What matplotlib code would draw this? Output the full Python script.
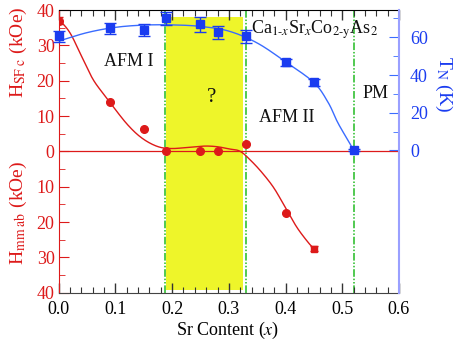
import numpy as np
import matplotlib
matplotlib.use("Agg")
import matplotlib.pyplot as plt

plt.rcParams['font.family'] = ['Liberation Serif', 'DejaVu Serif']
plt.rcParams['mathtext.fontset'] = 'stix'

# --- data ---
# red: H_SF c (positive) / H_mm ab (negative), kOe
h_x = [0.0, 0.09, 0.15, 0.19, 0.25, 0.28, 0.33, 0.40, 0.45]
h_y = [37.0, 14.0, 6.2, 0.2, 0.2, 0.1, 2.2, -17.4, -27.5]
h_err = [1.0, 0, 0, 0, 0, 0, 0, 0, 0.8]
# red guide curve
hc_x = [0.0, 0.02, 0.04, 0.06, 0.08, 0.10, 0.12, 0.14, 0.16, 0.18, 0.20, 0.22,
        0.24, 0.26, 0.28, 0.30, 0.32, 0.34, 0.36, 0.38, 0.40, 0.42, 0.44, 0.45]
hc_y = [37.5, 33.5, 27.0, 20.5, 16.0, 11.8, 7.8, 4.6, 2.4, 1.1, 0.8, 1.0,
        1.3, 1.5, 1.3, 0.7, 0.0, -2.8, -6.3, -10.5, -16.0, -21.5, -25.8, -27.5]

# blue: T_N (K)
t_x = [0.0, 0.09, 0.15, 0.19, 0.25, 0.28, 0.33, 0.40, 0.45, 0.52]
t_y = [60.5, 64.8, 63.9, 70.0, 67.0, 62.7, 60.5, 46.7, 36.1, 0.0]
t_err = [3.0, 3.0, 3.0, 3.5, 4.0, 3.5, 3.5, 2.0, 2.0, 0.5]
tc_x = [0.0, 0.05, 0.10, 0.15, 0.20, 0.25, 0.30, 0.35, 0.40, 0.45, 0.475, 0.49, 0.50, 0.51, 0.52]
tc_y = [58.0, 62.5, 65.3, 66.5, 66.6, 65.8, 63.3, 57.0, 47.0, 36.0, 25.5, 16.0, 10.5, 5.5, 0.0]

boundaries = [0.1875, 0.331, 0.52]
unknown_region = (0.19, 0.325)

left_ticks = [-40, -30, -20, -10, 0, 10, 20, 30, 40]
right_ticks = [0, 20, 40, 60]
x_ticks = [0.0, 0.1, 0.2, 0.3, 0.4, 0.5, 0.6]


def smooth(xs, ys, n=20):
    xs = np.asarray(xs, float); ys = np.asarray(ys, float)
    px = np.concatenate([[2*xs[0]-xs[1]], xs, [2*xs[-1]-xs[-2]]])
    py = np.concatenate([[2*ys[0]-ys[1]], ys, [2*ys[-1]-ys[-2]]])
    ox, oy = [], []
    t = np.linspace(0, 1, n, endpoint=False)
    for i in range(1, len(px)-2):
        for arr, out in ((px, ox), (py, oy)):
            p0, p1, p2, p3 = arr[i-1], arr[i], arr[i+1], arr[i+2]
            out.extend(0.5*((2*p1) + (-p0+p2)*t + (2*p0-5*p1+4*p2-p3)*t**2 + (-p0+3*p1-3*p2+p3)*t**3))
    ox.append(xs[-1]); oy.append(ys[-1])
    return np.array(ox), np.array(oy)


RED = '#dd1a1a'
BLUE = '#1a3cf0'
BLUE_L = '#3a6cff'
GREEN = '#22bb22'

fig = plt.figure(figsize=(4.57, 3.45), dpi=100)
ax = fig.add_axes([0.1285, 0.1516, 0.7445, 0.8194])
ax2 = ax.twinx()

ax.set_xlim(0, 0.6)
ax.set_ylim(-40, 40)
ax2.set_ylim(-75.5, 74.5)

# yellow region
ax.fill_between(unknown_region, -39.2, 38, color='#eef52a', zorder=0, lw=0)
for b in boundaries:
    ax.axvline(b, color=GREEN, lw=1.1, ls=(0, (5, 1.2, 1, 1.2, 1, 1.2)), zorder=1)

ax.axhline(0, color=RED, lw=0.9, zorder=2)
sx, sy = smooth(hc_x, hc_y)
ax.plot(sx, sy, color=RED, lw=1.0, zorder=3)
ax.errorbar(h_x[:-1], h_y[:-1], yerr=h_err[:-1], fmt='o', color=RED, ms=5.5,
            capsize=3, elinewidth=1, zorder=4)
ax.errorbar(h_x[-1:], h_y[-1:], yerr=h_err[-1:], fmt='s', color=RED, ms=5,
            capsize=3, elinewidth=1, zorder=4)

bx, by = smooth(tc_x, tc_y)
ax2.plot(bx, by, color=BLUE_L, lw=1.0, zorder=3)
ax2.errorbar(t_x, t_y, yerr=t_err, fmt='s', color=BLUE, ms=5.5, capsize=4,
             elinewidth=1, zorder=4, clip_on=False)

# axes styling
ax.set_xticks(x_ticks)
ax.set_xticklabels(['%.1f' % v for v in x_ticks], fontsize=13)
ax.set_xticks(np.arange(0, 0.601, 0.02), minor=True)
ax.set_yticks(left_ticks)
ax.set_yticklabels([str(abs(v)) for v in left_ticks], fontsize=13, color=RED)
ax.set_yticks(np.arange(-35, 36, 10), minor=True)
ax.tick_params(axis='x', which='both', direction='in', top=True, colors='#333333')
ax.tick_params(axis='x', which='major', length=7, width=1)
ax.tick_params(axis='x', which='minor', length=4, width=0.8)
ax.tick_params(axis='x', labelcolor='black', pad=6)
ax.tick_params(axis='y', which='both', direction='in', colors=RED, right=False)
ax.tick_params(axis='y', which='major', length=7, pad=3)
ax.tick_params(axis='y', which='minor', length=4)
ax.spines['left'].set_color(RED)
ax.spines['bottom'].set_color('#444444')
ax.spines['top'].set_color('black')
ax.spines['right'].set_visible(False)

ax2.set_yticks(right_ticks)
ax2.set_yticklabels([str(v) for v in right_ticks], fontsize=13, color=BLUE)
ax2.set_yticks([10, 30, 50, 70], minor=True)
ax2.tick_params(axis='y', which='both', direction='in', colors=BLUE_L)
ax2.tick_params(axis='y', which='major', length=7, pad=8)
ax2.tick_params(axis='y', which='minor', length=4)
ax2.tick_params(axis='y', labelcolor=BLUE)
ax2.spines['right'].set_color('#9aa0ff')
ax2.spines['right'].set_linewidth(1.5)
for s in ('left', 'top', 'bottom'):
    ax2.spines[s].set_visible(False)

# text annotations
tk = dict(fontsize=13, color='#111111')
ax.text(0.08, 25.5, 'AFM I', va='center', ha='left', **tk)
ax.text(0.27, 15.2, '?', va='center', ha='center', fontsize=15, color='#111111')
ax.text(0.3385, 34.3, r'Ca$_{1\text{-}x}$Sr$_{x}$Co$_{2\text{-}\mathrm{y}}$As$_{2}$',
        va='center', ha='left', **tk)
ax.text(0.3526, 9.6, 'AFM II', va='center', ha='left', **tk)
ax.text(0.5365, 16.4, 'PM', va='center', ha='left', **tk)

fig.text(228 / 457, 1 - 330 / 345, r'Sr Content ($x$)',
         ha='center', va='center', fontsize=13)
fig.text(18 / 457, 1 - 52 / 345, r'H$_{\mathrm{SF\ c}}$ (kOe)', rotation=90,
         ha='center', va='center', fontsize=14, color=RED)
fig.text(18 / 457, 1 - 213 / 345, r'H$_{\mathrm{mm\ ab}}$ (kOe)', rotation=90,
         ha='center', va='center', fontsize=14, color=RED)
fig.text(444 / 457, 1 - 84 / 345, r'T$_{\mathrm{N}}$ (K)', rotation=-90,
         ha='center', va='center', fontsize=14, color=BLUE)

fig.savefig('out.png', dpi=100)
